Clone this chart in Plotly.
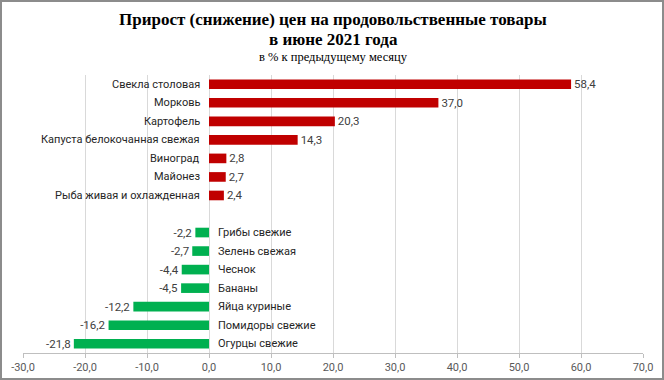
import plotly.graph_objects as go

categories = ["Свекла столовая", "Морковь", "Картофель", "Капуста белокочанная свежая",
              "Виноград", "Майонез", "Рыба живая и охлажденная", " ",
              "Грибы свежие", "Зелень свежая", "Чеснок", "Бананы",
              "Яйца куриные", "Помидоры свежие", "Огурцы свежие"]
values = [58.4, 37.0, 20.3, 14.3, 2.8, 2.7, 2.4, None,
          -2.2, -2.7, -4.4, -4.5, -12.2, -16.2, -21.8]
tick_vals = [-30, -20, -10, 0, 10, 20, 30, 40, 50, 60, 70]

def fmt(v):
    return f"{v:.1f}".replace(".", ",")

colors = []
texts = []
for v in values:
    if v is None:
        colors.append("rgba(0,0,0,0)")
        texts.append("")
    else:
        colors.append("#C00000" if v >= 0 else "#00B050")
        texts.append(fmt(v))

W, H = 664, 380
ml, mr, mt, mb = 23, 21, 75, 27
pw, ph = W - ml - mr, H - mt - mb

FONT = "Roboto"

fig = go.Figure()
fig.add_trace(go.Bar(
    x=values, y=categories, orientation="h",
    marker=dict(color=colors, line=dict(width=0)),
    text=texts, textposition="outside", cliponaxis=False, constraintext="none",
    textfont=dict(family=FONT, size=11.5, color="#404040"),
    hoverinfo="skip",
))

annotations = []
for c, v in zip(categories, values):
    if v is None:
        continue
    annotations.append(dict(
        x=0, y=c, xref="x", yref="y", text=c, showarrow=False,
        xanchor="right" if v >= 0 else "left",
        xshift=-7 if v >= 0 else 7,
        font=dict(family=FONT, size=11, color="#262626"),
    ))

annotations += [
    dict(x=0.5, y=1 + (mt - 20) / ph, xref="paper", yref="paper", showarrow=False,
         text="<b>Прирост (снижение) цен на продовольственные товары</b>",
         font=dict(family="Liberation Serif", size=17, color="#000000"), yanchor="middle"),
    dict(x=0.5, y=1 + (mt - 40) / ph, xref="paper", yref="paper", showarrow=False,
         text="<b>в июне 2021 года</b>",
         font=dict(family="Liberation Serif", size=17, color="#000000"), yanchor="middle"),
    dict(x=0.5, y=1 + (mt - 57) / ph, xref="paper", yref="paper", showarrow=False,
         text="в % к предыдущему месяцу",
         font=dict(family="Liberation Serif", size=12.5, color="#000000"), yanchor="middle"),
]

fig.update_layout(
    width=W, height=H,
    margin=dict(l=ml, r=mr, t=mt, b=mb, autoexpand=False),
    paper_bgcolor="white", plot_bgcolor="white",
    showlegend=False, bargap=0.48,
    annotations=annotations,
    xaxis=dict(range=[-30, 70], tickvals=tick_vals, ticktext=[fmt(t) for t in tick_vals],
               showgrid=True, gridcolor="#D9D9D9", gridwidth=1, zeroline=False,
               showline=True, linecolor="#BFBFBF", ticks="outside", tickcolor="#BFBFBF",
               ticklen=4, automargin=False,
               tickfont=dict(family=FONT, size=11, color="#595959")),
    yaxis=dict(categoryorder="array", categoryarray=categories, autorange="reversed",
               showticklabels=False, showgrid=False, zeroline=False, showline=False,
               automargin=False),
    shapes=[dict(type="rect", xref="paper", yref="paper",
                 x0=-(ml - 1) / pw, x1=1 + (mr - 1) / pw,
                 y0=-(mb - 1) / ph, y1=1 + (mt - 1) / ph,
                 line=dict(color="#8C8C8C", width=2))],
)

fig.write_html("out.html", config={"displayModeBar": False},
               post_script="document.body.style.margin='0';document.body.style.overflow='hidden';")
